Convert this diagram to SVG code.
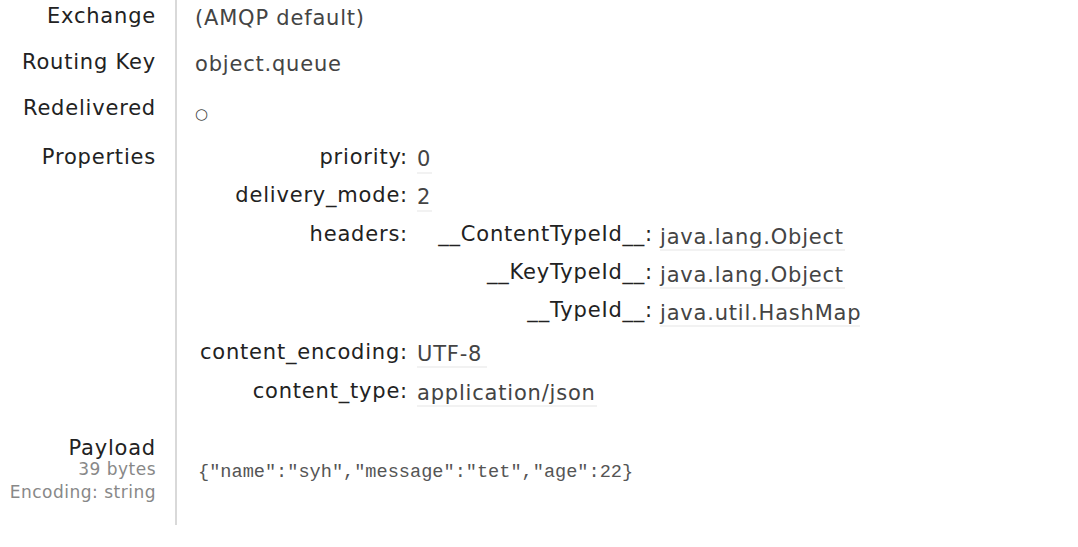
<svg xmlns="http://www.w3.org/2000/svg" width="1078" height="547" viewBox="0 0 1078 547">
<style>
text{font-family:"DejaVu Sans",sans-serif;font-size:21px;letter-spacing:0.8px}
.l{fill:#222;text-anchor:end}
.v{fill:#444}
.s{fill:#888;font-size:17px;text-anchor:end;letter-spacing:0.5px}
.u{stroke:#eee;stroke-width:1.5}
.m{font-family:"Liberation Mono",monospace;font-size:18.6px;fill:#555;letter-spacing:0}
</style>
<rect width="1078" height="547" fill="#fff"/>
<line x1="176" y1="0" x2="176" y2="525" stroke="#ccc" stroke-width="1.5"/>
<text class="l" x="156" y="23">Exchange</text>
<text class="v" x="195" y="25">(AMQP default)</text>
<text class="l" x="156" y="69">Routing Key</text>
<text class="v" x="195" y="71">object.queue</text>
<text class="l" x="156" y="115">Redelivered</text>
<text class="v" x="195" y="119" style="font-size:15px">○</text>
<text class="l" x="156" y="164">Properties</text>
<text class="l" x="408" y="164">priority:</text>
<text class="v" x="417" y="166">0</text>
<text class="l" x="408" y="202">delivery_mode:</text>
<text class="v" x="417" y="204">2</text>
<text class="l" x="408" y="241">headers:</text>
<text class="l" x="653" y="241">__ContentTypeId__:</text>
<text class="v" x="660" y="244">java.lang.Object</text>
<text class="l" x="653" y="279">__KeyTypeId__:</text>
<text class="v" x="660" y="282">java.lang.Object</text>
<text class="l" x="653" y="317">__TypeId__:</text>
<text class="v" x="660" y="320">java.util.HashMap</text>
<text class="l" x="408" y="359">content_encoding:</text>
<text class="v" x="417" y="361">UTF-8</text>
<text class="l" x="408" y="398">content_type:</text>
<text class="v" x="417" y="400">application/json</text>
<g class="u">
<line x1="417" y1="173" x2="432" y2="173"/>
<line x1="417" y1="211" x2="432" y2="211"/>
<line x1="660" y1="250" x2="845" y2="250"/>
<line x1="660" y1="288" x2="845" y2="288"/>
<line x1="660" y1="326" x2="860" y2="326"/>
<line x1="417" y1="367" x2="487" y2="367"/>
<line x1="417" y1="406" x2="597" y2="406"/>
</g>
<text class="l" x="156" y="455">Payload</text>
<text class="s" x="156" y="475">39 bytes</text>
<text class="s" x="156" y="498">Encoding: string</text>
<text class="m" x="198" y="477">{"name":"syh","message":"tet","age":22}</text>
</svg>
